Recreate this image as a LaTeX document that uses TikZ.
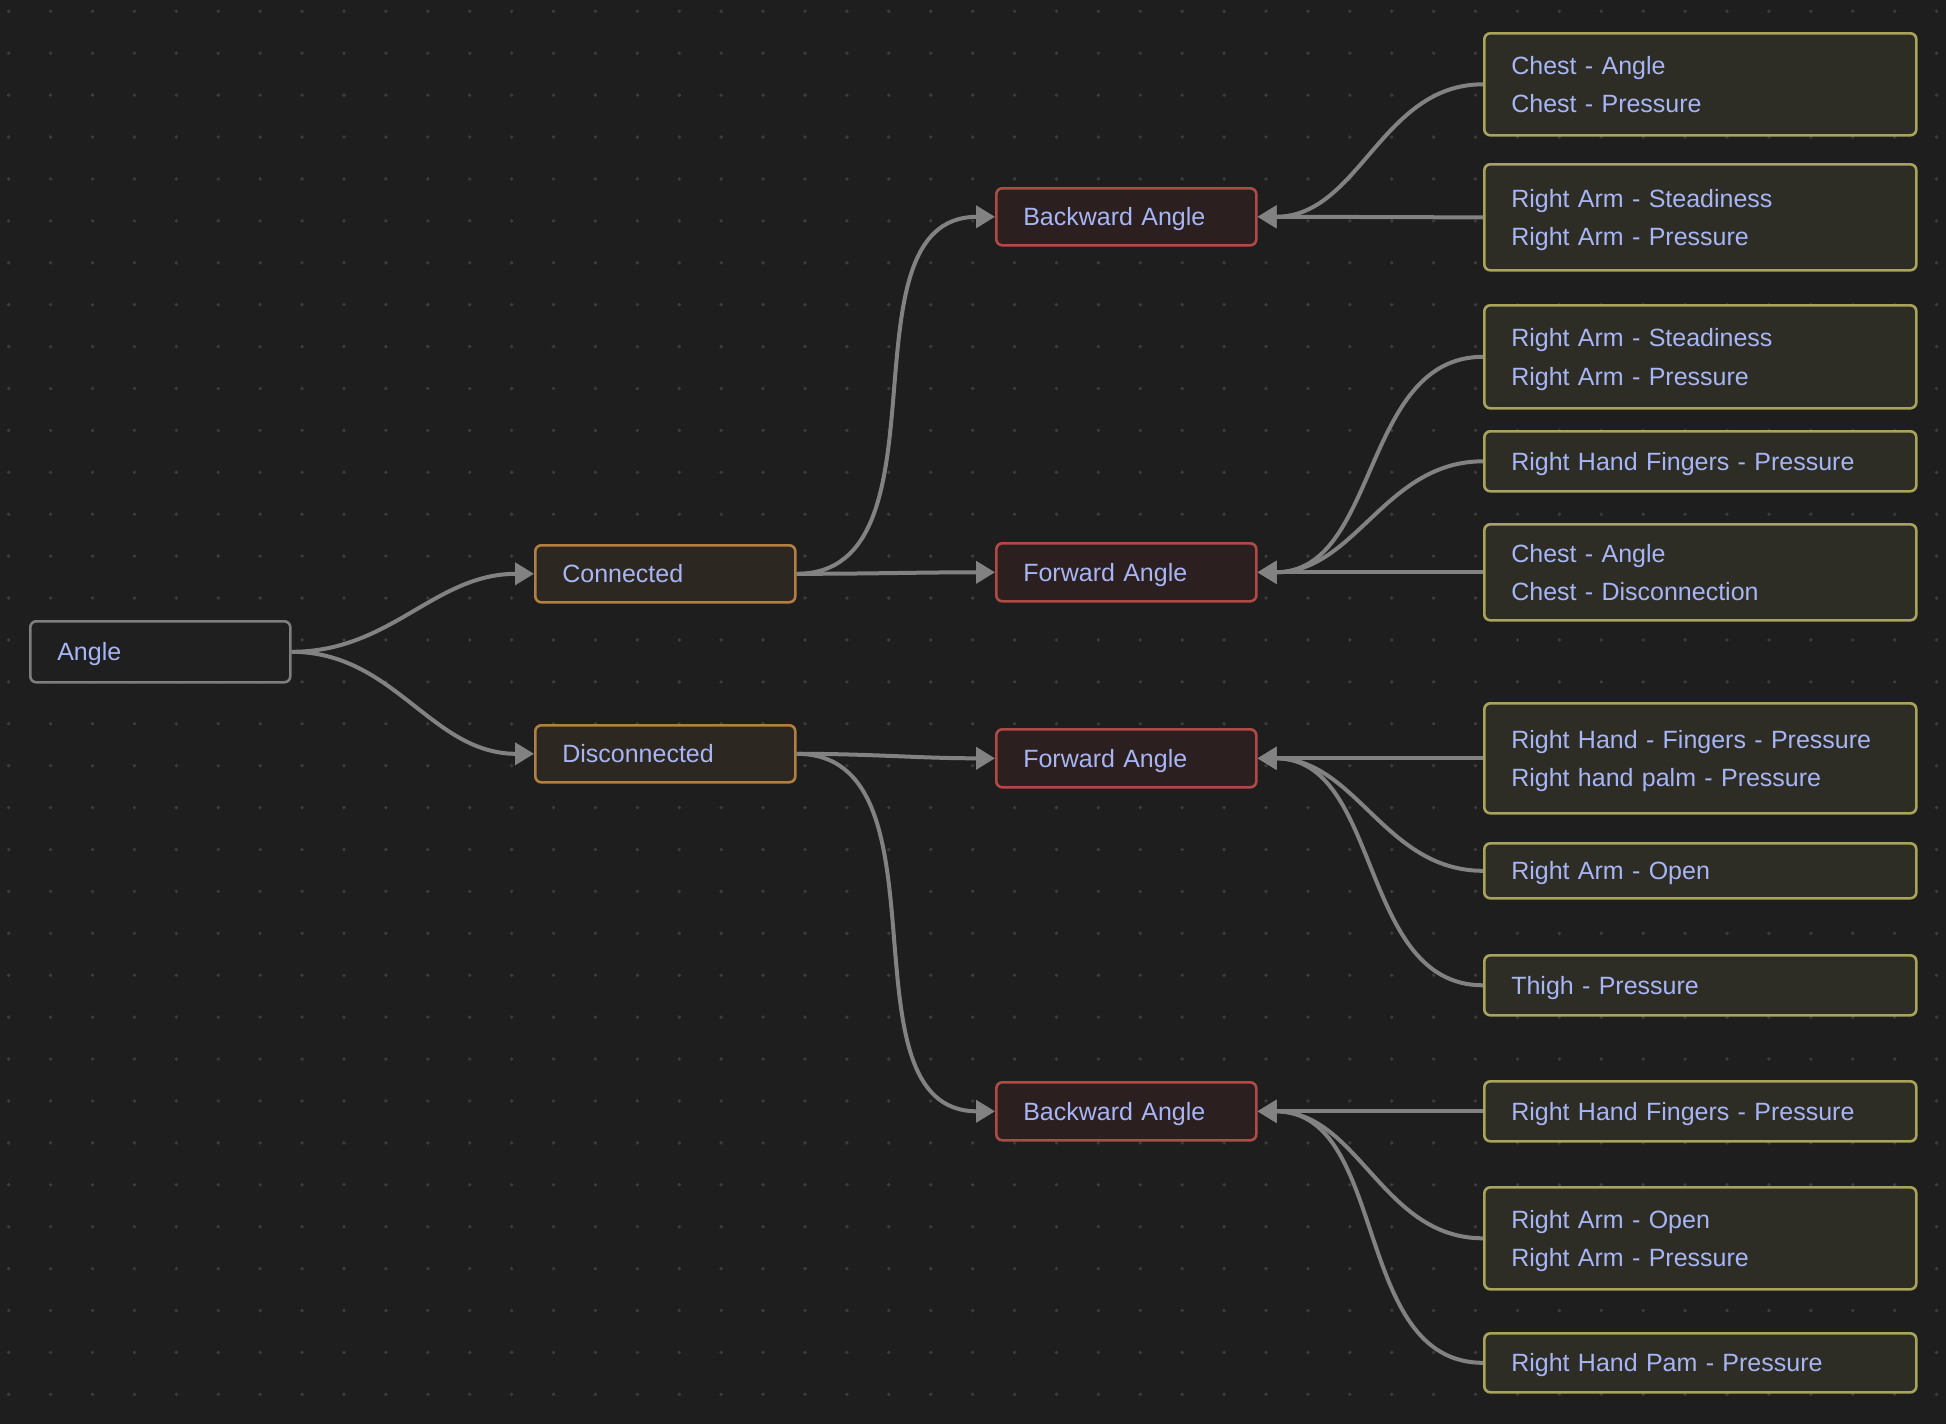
\documentclass[tikz,border=0pt]{standalone}
\usepackage{fontspec}
\setmainfont{Liberation Sans}
\usetikzlibrary{arrows.meta}
\definecolor{bg}{HTML}{1E1E1E}
\definecolor{dotc}{HTML}{3C3C3C}
\definecolor{txt}{HTML}{A7B5F4}
\definecolor{edgec}{HTML}{828282}
\definecolor{rootb}{HTML}{7E7E7E}
\definecolor{rootf}{HTML}{1F1F1F}
\definecolor{ob}{HTML}{B27F40}
\definecolor{of}{HTML}{2D2721}
\definecolor{rb}{HTML}{B04A46}
\definecolor{rf}{HTML}{2C1F1F}
\definecolor{yb}{HTML}{A9A45B}
\definecolor{yf}{HTML}{2D2D26}
\begin{document}
\begin{tikzpicture}[x=1pt,y=-1pt,
  box/.style={rounded corners=6pt, line width=2.6pt, inner sep=0pt, anchor=north west,
    text=txt, font=\fontsize{25}{38.3}\selectfont, align=left,
    text height=18.1pt, text depth=0pt},
  twoline/.style={text depth=38.3pt},
  rootbox/.style={box, draw=rootb, fill=rootf, minimum width=260pt, text width=206pt},
  grpbox/.style={box, draw=ob, fill=of, minimum width=260pt, text width=206pt},
  dirbox/.style={box, draw=rb, fill=rf, minimum width=260pt, text width=206pt},
  leafbox/.style={box, draw=yb, fill=yf, minimum width=432pt, text width=378pt},
  edge/.style={draw=edgec, line width=4pt, -{Triangle[length=19pt,width=22pt]}},
  fwd/.style={out=0, in=180},
  back/.style={out=180, in=0}
]
\useasboundingbox (0,0) rectangle (1946,1424);
\fill[bg] (0,0) rectangle (1946,1424);
\foreach \i in {0,...,46}{
  \foreach \j in {0,...,33}{
    \fill[dotc] (8.7+\i*41.91, 11.3+\j*41.91) circle (1.9pt);
  }
}
% left and middle nodes
\node[rootbox, minimum height=61pt] (angle) at (29,620) {Angle};
\node[grpbox, minimum height=57pt] (conn) at (534,544) {Connected};
\node[grpbox, minimum height=57pt] (disc) at (534,724) {Disconnected};
\node[dirbox, minimum height=57pt] (cb) at (995,187) {Backward Angle};
\node[dirbox, minimum height=58pt] (cf) at (995,542) {Forward Angle};
\node[dirbox, minimum height=58pt] (df) at (995,728) {Forward Angle};
\node[dirbox, minimum height=58pt] (db) at (995,1081) {Backward Angle};
% leaves
\node[leafbox, twoline, minimum height=102pt] (r1) at (1483,32) {Chest - Angle\\Chest - Pressure};
\node[leafbox, twoline, minimum height=106pt] (r2) at (1483,163) {Right Arm - Steadiness\\Right Arm - Pressure};
\node[leafbox, twoline, minimum height=103pt] (r3) at (1483,304) {Right Arm - Steadiness\\Right Arm - Pressure};
\node[leafbox, minimum height=60pt] (r4) at (1483,430) {Right Hand Fingers - Pressure};
\node[leafbox, twoline, minimum height=96pt] (r5) at (1483,523) {Chest - Angle\\Chest - Disconnection};
\node[leafbox, twoline, minimum height=110pt] (r6) at (1483,702) {Right Hand - Fingers - Pressure\\Right hand palm - Pressure};
\node[leafbox, minimum height=55pt] (r7) at (1483,842) {Right Arm - Open};
\node[leafbox, minimum height=60pt] (r8) at (1483,954) {Thigh - Pressure};
\node[leafbox, minimum height=60pt] (r9) at (1483,1080) {Right Hand Fingers - Pressure};
\node[leafbox, twoline, minimum height=102pt] (r10) at (1483,1186) {Right Arm - Open\\Right Arm - Pressure};
\node[leafbox, minimum height=59pt] (r11) at (1483,1332) {Right Hand Pam - Pressure};
% edges
\draw[edge] (angle.east) to[fwd] (conn.west);
\draw[edge] (angle.east) to[fwd] (disc.west);
\draw[edge] (conn.east) to[fwd] (cb.west);
\draw[edge] (conn.east) to[fwd] (cf.west);
\draw[edge] (disc.east) to[fwd] (df.west);
\draw[edge] (disc.east) to[fwd] (db.west);
\foreach \s/\t in {r1/cb, r2/cb, r3/cf, r4/cf, r5/cf, r6/df, r7/df, r8/df, r9/db, r10/db, r11/db}{
  \draw[edge] (\s.west) to[back] (\t.east);
}
\end{tikzpicture}
\end{document}
